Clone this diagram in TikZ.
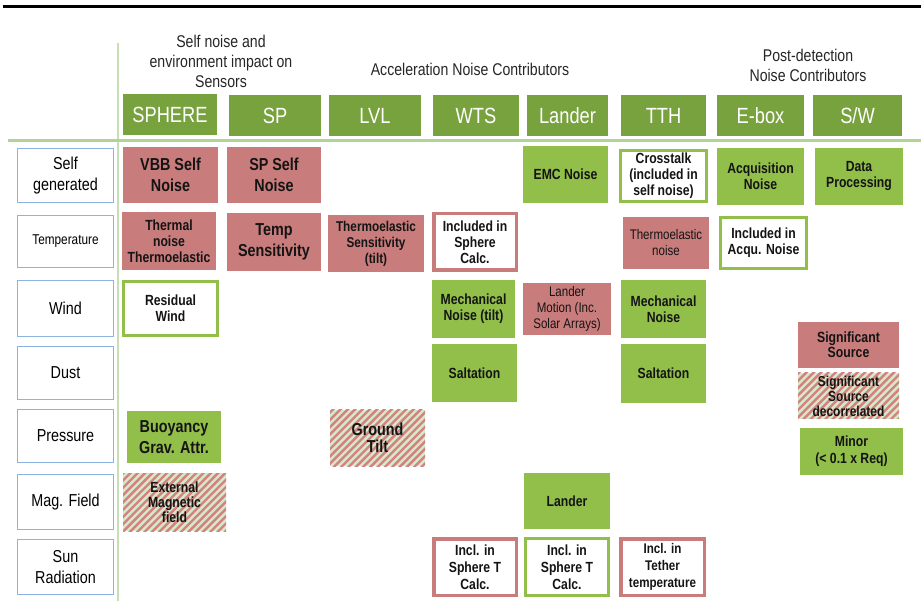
\documentclass[tikz,border=0pt]{standalone}
\usepackage{fontspec}
\setmainfont{Liberation Sans}[FakeStretch=0.83]
\definecolor{pinkfill}{RGB}{201,124,124}
\definecolor{greenfill}{RGB}{146,190,74}
\definecolor{headgreen}{RGB}{119,162,62}
\definecolor{labblue}{RGB}{141,179,226}
\definecolor{hatchbg}{RGB}{214,232,198}
\definecolor{hatchpink}{RGB}{210,130,130}
\definecolor{vline}{RGB}{197,224,180}
\definecolor{hline}{RGB}{176,212,148}
\newcommand{\myBig}{\fontsize{17.3}{21}\selectfont\bfseries}
\newcommand{\myMed}{\fontsize{14.7}{16}\selectfont\bfseries}
\newcommand{\myReg}{\fontsize{13.9}{16}\selectfont}
\newcommand{\myLab}{\fontsize{17.3}{20.7}\selectfont}
\newcommand{\myHead}{\fontsize{22}{24}\selectfont}
\newcommand{\myTitle}{\fontsize{17}{20}\selectfont}
\begin{document}
\begin{tikzpicture}[x=1pt,y=-1pt,
  sz/.style 2 args={minimum width=#1pt,minimum height=#2pt},
  cellbase/.style={align=center,inner sep=1pt,text=black!92},
  pinkcell/.style={cellbase,fill=pinkfill},
  greencell/.style={cellbase,fill=greenfill},
  greenbord/.style={cellbase,fill=white,draw=greenfill,line width=3pt},
  pinkbord/.style={cellbase,fill=white,draw=pinkfill,line width=3.5pt},
  hatched/.style={cellbase,fill=hatchbg,path picture={
     \foreach \k in {-15,...,15}{
       \draw[hatchpink,line width=2.4pt] ([xshift=\k*7.3pt]path picture bounding box.center) ++(-45pt,-45pt) -- ++(90pt,90pt);}}},
  header/.style={fill=headgreen,text=white,inner sep=1pt,font=\myHead},
  rowlab/.style={draw=labblue,line width=1.4pt,fill=white,align=center,inner sep=1pt,minimum width=95.5pt,font=\myLab},
  title/.style={align=center,inner sep=0pt,font=\myTitle,text=black!85}
]
\useasboundingbox (0,0) rectangle (921,601);
% rules
\coordinate (tl) at (3,6.2); \coordinate (tr) at (921,6.2);
\draw[black,line width=3pt] (tl) -- (tr);
\coordinate (vt) at (118,43); \coordinate (vb) at (118,601);
\draw[vline,line width=2.5pt] (vt) -- (vb);
\coordinate (hl) at (8,141); \coordinate (hr) at (921,141);
\draw[hline,line width=3pt] (hl) -- (hr);
% titles
\node[title] (t1) at (221,61) {Self noise and\\environment impact on\\Sensors};
\node[title] (t2) at (470,69) {Acceleration Noise Contributors};
\node[title] (t3) at (808,65) {Post-detection\\Noise Contributors};
% headers
\node[header,sz={94}{41}] (hSPHERE) at (170,115) {SPHERE};
\node[header,sz={92}{41}] (hSP) at (275,115.5) {SP};
\node[header,sz={92}{41}] (hLVL) at (375,115.5) {LVL};
\node[header,sz={86}{41}] (hWTS) at (476,115.5) {WTS};
\node[header,sz={81}{41}] (hLander) at (567.5,115.5) {Lander};
\node[header,sz={85}{41}] (hTTH) at (663.5,115.5) {TTH};
\node[header,sz={87}{41}] (hEbox) at (760.5,115.5) {E-box};
\node[header,sz={89}{41}] (hSW) at (857.5,115.5) {S/W};
% row labels
\node[rowlab,minimum height=53.5pt] (rSelf) at (65.5,175.5) {Self\\generated};
\node[rowlab,minimum height=51.5pt,font=\fontsize{14.2}{16}\selectfont] (rTemp) at (65.5,241.5) {Temperature};
\node[rowlab,minimum height=55.5pt] (rWind) at (65.5,308.5) {Wind};
\node[rowlab,minimum height=52.5pt] (rDust) at (65.5,373) {Dust};
\node[rowlab,minimum height=52.5pt] (rPress) at (65.5,436) {Pressure};
\node[rowlab,minimum height=54.5pt] (rMag) at (65.5,502) {Mag. Field};
\node[rowlab,minimum height=54.5pt] (rSun) at (65.5,567) {Sun\\Radiation};
% row 1
\node[pinkcell,sz={95}{56},font=\myBig] (vbb) at (170.5,175) {VBB Self\\Noise};
\node[pinkcell,sz={94}{56},font=\myBig] (spself) at (274,175) {SP Self\\Noise};
\node[greencell,sz={85}{57},font=\myMed] (emc) at (565.5,174.5) {EMC Noise};
\node[greenbord,sz={86}{51},font=\myMed] (cross) at (663.5,176) {Crosstalk\\(included in\\self noise)};
\node[greencell,sz={87}{57},font=\myMed] (acq) at (760.5,176.5) {Acquisition\\Noise};
\node[greencell,sz={88}{57},font=\myMed] (dproc) at (859,176.5) {Data\\Processing};
% row 2
\node[pinkcell,sz={94}{58},font=\myMed] (thermal) at (169,241) {Thermal\\noise\\Thermoelastic};
\node[pinkcell,sz={94}{58},font=\myBig] (tsens) at (274,242) {Temp\\Sensitivity};
\node[pinkcell,sz={96}{57},font=\fontsize{14.2}{16}\selectfont\bfseries] (thsens) at (376,243.5) {Thermoelastic\\Sensitivity\\(tilt)};
\node[pinkbord,sz={82.5}{56.5},font=\myMed] (inclsph) at (475,242) {Included in\\Sphere\\Calc.};
\node[pinkcell,sz={86}{52},font=\myReg] (thnoise) at (666,243) {Thermoelastic\\noise};
\node[greenbord,sz={86}{51},font=\myMed] (inclacq) at (763.5,243) {Included in\\Acqu. Noise};
% row 3
\node[greenbord,sz={94}{54},font=\myMed] (resid) at (170.5,308.5) {Residual\\Wind};
\node[greencell,sz={83}{58},font=\myMed] (mechtilt) at (473.5,309) {Mechanical\\Noise (tilt)};
\node[pinkcell,sz={88}{52},font=\myReg] (landmot) at (567,309) {Lander\\Motion (Inc.\\Solar Arrays)};
\node[greencell,sz={85}{58},font=\myMed] (mech) at (663.5,309) {Mechanical\\Noise};
% row 4
\node[greencell,sz={85}{58},font=\myMed] (salt1) at (474.5,373) {Saltation};
\node[greencell,sz={85}{59},font=\myMed] (salt2) at (663.5,373.5) {Saltation};
% legend
\node[pinkcell,sz={101}{46},font=\fontsize{14.8}{15.3}\selectfont\bfseries] (legsig) at (848.5,345) {Significant\\Source};
\node[hatched,sz={101}{46},font=\fontsize{14.4}{15}\selectfont\bfseries] (legdec) at (848.5,396) {Significant\\Source\\decorrelated};
\node[greencell,sz={103}{47},font=\fontsize{14.7}{17}\selectfont\bfseries] (legmin) at (851.5,451.5) {Minor\\(< 0.1 x Req)};
% row 5
\node[greencell,sz={94}{52},font=\myBig] (buoy) at (174,437) {Buoyancy\\Grav. Attr.};
\node[hatched,sz={95}{56},font=\fontsize{17.3}{16.5}\selectfont\bfseries] (gtilt) at (377.5,438) {Ground\\Tilt};
% row 6
\node[hatched,sz={103}{58},font=\fontsize{14.7}{15}\selectfont\bfseries] (extmag) at (174.5,502) {External\\Magnetic\\field};
\node[greencell,sz={86}{56},font=\myMed] (landmag) at (567,501) {Lander};
% row 7
\node[pinkbord,sz={82.5}{56.5},font=\fontsize{14.7}{17}\selectfont\bfseries] (incT1) at (475,567) {Incl. in\\Sphere T\\Calc.};
\node[greenbord,sz={83}{57},font=\fontsize{14.7}{17}\selectfont\bfseries] (incT2) at (567,567) {Incl. in\\Sphere T\\Calc.};
\node[pinkbord,sz={83.5}{56.5},font=\fontsize{14}{17}\selectfont\bfseries] (incteth) at (662.5,567) {Incl. in\\Tether\\temperature};
\end{tikzpicture}
\end{document}
